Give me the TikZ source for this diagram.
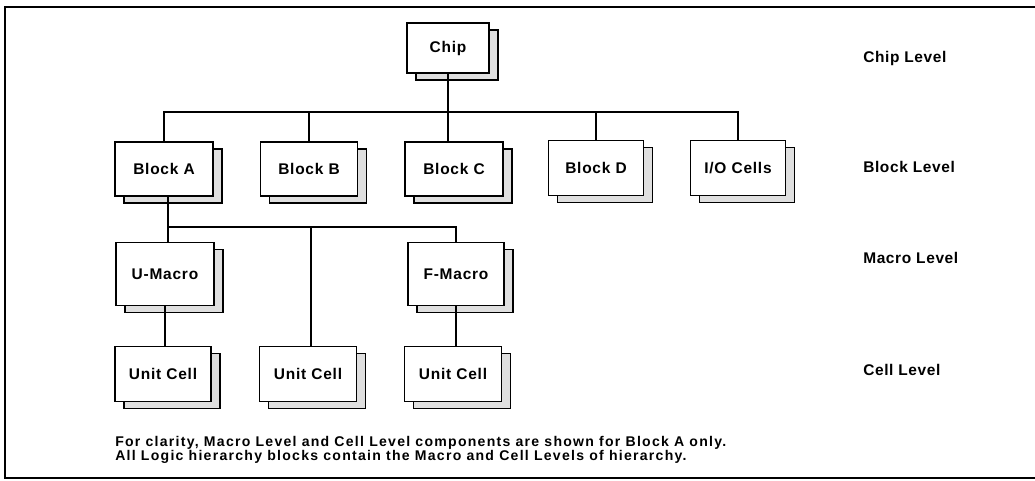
\documentclass[tikz,border=0pt]{standalone}
\usepackage{fontspec}
\setmainfont{Liberation Sans}
\usetikzlibrary{shadows}

\tikzset{
  unitbox/.style={draw, line width=1.1pt, fill=white, inner sep=0pt,
    font=\bfseries\fontsize{11}{13}\selectfont\addfontfeature{LetterSpace=5},
    general shadow={shadow xshift=6.4pt, shadow yshift=-5pt,
      fill=gray!25, draw=black, line width=1.1pt}},
  leveltag/.style={anchor=west, inner sep=0pt,
    font=\bfseries\fontsize{11}{13}\selectfont\addfontfeature{LetterSpace=4}},
  link/.style={line width=0.9pt}
}

\begin{document}
\begin{tikzpicture}[x=0.025cm, y=-0.025cm]
    \useasboundingbox (0,0) rectangle (1035,481);
    % frame
    \draw[line width=1pt] (1036,7) -- (5,7) -- (5,478) -- (1036,478);
    % chip level
    \node[unitbox, minimum width=2.05cm, minimum height=1.25cm] (chip) at (448,48) {Chip};
    % block level
    \node[unitbox, minimum width=2.45cm, minimum height=1.35cm] (blockA) at (164,169) {Block A};
    \node[unitbox, minimum width=2.42cm, minimum height=1.35cm] (blockB) at (309,169) {Block B};
    \node[unitbox, minimum width=2.45cm, minimum height=1.35cm] (blockC) at (454,169) {Block C};
    \node[unitbox, minimum width=2.38cm, minimum height=1.37cm] (blockD) at (596,168) {Block D};
    \node[unitbox, minimum width=2.38cm, minimum height=1.37cm] (ioCells) at (738,168) {I/O Cells};
    % macro level
    \node[unitbox, minimum width=2.45cm, minimum height=1.57cm] (uMacro) at (165,274) {U-Macro};
    \node[unitbox, minimum width=2.4cm, minimum height=1.57cm] (fMacro) at (456,274) {F-Macro};
    % cell level
    \node[unitbox, minimum width=2.4cm, minimum height=1.37cm] (cellA) at (163,374) {Unit Cell};
    \node[unitbox, minimum width=2.42cm, minimum height=1.37cm] (cellB) at (308,374) {Unit Cell};
    \node[unitbox, minimum width=2.42cm, minimum height=1.37cm] (cellC) at (453,374) {Unit Cell};
    % bus lines
    \coordinate (blockBus) at (448,112);
    \coordinate (macroBus) at (311,227);
    \draw[link] (chip.south) -- (chip.south |- blockC.north);
    \draw[link] (blockA.north) |- (ioCells.north |- blockBus) -- (ioCells.north);
    \draw[link] (blockB.north) -- (blockB.north |- blockBus);
    \draw[link] (blockD.north) -- (blockD.north |- blockBus);
    \draw[link] (blockA.south) ++(2.8pt,0) coordinate (aFoot) -- (aFoot |- macroBus)
        -| (fMacro.north);
    \draw[link] (aFoot |- macroBus) -- (aFoot |- uMacro.north);
    \draw[link] (macroBus) -- (macroBus |- cellB.north);
    \draw[link] (uMacro.south) -- (uMacro.south |- cellA.north);
    \draw[link] (fMacro.south) -- (fMacro.south |- cellC.north);
    % level labels
    \node[leveltag] (tagChip) at (863,58) {Chip Level};
    \node[leveltag] (tagBlock) at (863,167) {Block Level};
    \node[leveltag] (tagMacro) at (863,258) {Macro Level};
    \node[leveltag] (tagCell) at (863,370) {Cell Level};
    % note
    \node[anchor=north west, align=left, inner sep=0pt,
          font=\bfseries\fontsize{10}{8.4}\selectfont\addfontfeature{LetterSpace=9}] (note) at (115,436)
        {For clarity, Macro Level and Cell Level components are shown for Block A only.\\
         All Logic hierarchy blocks contain the Macro and Cell Levels of hierarchy.};
\end{tikzpicture}
\end{document}
